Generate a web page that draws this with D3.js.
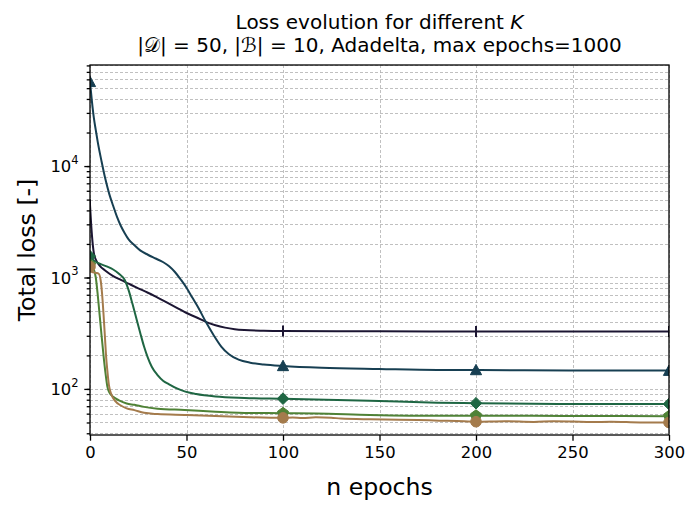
<!DOCTYPE html>
<html>
<head>
<meta charset="utf-8">
<script src="https://cdn.jsdelivr.net/npm/d3@7"></script>
<style>
body { margin: 0; background: #fff; }
text { font-family: 'DejaVu Sans', sans-serif; fill: #000; }
</style>
</head>
<body>
<script>
const width = 689
const height = 506
const margin = {
  top: 65,
  right: 20,
  bottom: 71,
  left: 90
}

// data: [epoch, total loss]
const epochTicks = [0, 50, 100, 150, 200, 250, 300]
const lossTicks = [100, 1000, 10000]
const markerEpochs = [0, 100, 200, 300]

const lossDark = [[0, 4500], [1, 2400], [2, 1650], [3, 1450], [5, 1280], [8, 1150], [12, 1030],
  [16, 950], [20, 880], [25, 800], [30, 730], [35, 660], [40, 595], [45, 535], [50, 480],
  [55, 440], [60, 400], [65, 373], [70, 355], [75, 344], [80, 338], [90, 333], [100, 331],
  [150, 329], [200, 328], [300, 328]]

const lossTeal = [[0, 57000], [1, 38000], [2, 27000], [3, 21000], [4, 16500], [6, 11000],
  [8, 7600], [10, 5600], [12, 4400], [14, 3500], [16, 2900], [18, 2500], [20, 2200],
  [23, 1950], [26, 1750], [30, 1600], [34, 1480], [38, 1370], [41, 1260], [44, 1120],
  [47, 960], [50, 810], [53, 660], [56, 540], [60, 400], [64, 305], [68, 240], [72, 205],
  [77, 183], [83, 172], [90, 166], [100, 161], [120, 155], [150, 151], [180, 148],
  [200, 148], [250, 146], [300, 146]]

const lossGreen = [[0, 1550], [2, 1420], [5, 1330], [9, 1250], [12, 1180], [15, 1080],
  [18, 950], [20, 770], [22, 580], [24, 430], [26, 320], [28, 240], [30, 190], [32, 158],
  [35, 133], [38, 118], [41, 110], [45, 101], [49, 95], [55, 90], [65, 85.5], [80, 83],
  [100, 81.8], [145, 78.5], [180, 75.3], [200, 74.4], [250, 73.3], [300, 73.2]]

const lossOlive = [[0, 1300], [1, 1250], [2, 1180], [3, 1000], [4, 700], [5, 460], [6, 300],
  [7, 200], [8, 140], [9, 105], [10, 93], [12, 85], [15, 79], [19, 74], [23, 72], [28, 69],
  [35, 66.5], [49, 64.8], [65, 62.5], [83, 60.8], [100, 60.6], [117, 60.2], [145, 58.5],
  [181, 57.4], [200, 57.6], [250, 57.1], [300, 57]]

const lossBrown = [[0, 1250], [1, 1120], [3, 1100], [4.5, 1080], [5.5, 950], [6.3, 700],
  [7, 470], [7.7, 300], [8.3, 200], [9, 145], [9.8, 108], [11, 90], [13, 78], [16, 71],
  [19, 67], [23, 64.5], [28, 61], [35, 59.5], [49, 58.4], [65, 57.2], [83, 55.7], [100, 55],
  [105, 55.4], [110, 54.8], [117, 55.7], [125, 55.2], [130, 54.2], [145, 53.4], [160, 53],
  [170, 52.6], [181, 51.9], [190, 51.5], [200, 50.8], [215, 51.3], [230, 50.6], [240, 51.2],
  [250, 50.9], [260, 50.4], [270, 50.8], [285, 50.1], [300, 50]]

const svg = d3.select('body')
  .append('svg')
  .attr('width', width)
  .attr('height', height)

const chartWidth = width - margin.left - margin.right
const chartHeight = height - margin.top - margin.bottom

const g = svg.append('g').attr('transform', `translate(${margin.left}, ${margin.top})`)

const x = d3.scaleLinear().domain([0, 300]).range([0, chartWidth])
const y = d3.scaleLog().domain([38.6, 80700]).range([chartHeight, 0])

// marker shapes (matplotlib-like), size = half extent in px
const vline = { draw (c, s) { c.moveTo(0, -s); c.lineTo(0, s) } }
const triUp = { draw (c, s) { c.moveTo(0, -s); c.lineTo(s, s * 0.85); c.lineTo(-s, s * 0.85); c.closePath() } }
const diamond = { draw (c, s) { c.moveTo(0, -s); c.lineTo(s, 0); c.lineTo(0, s); c.lineTo(-s, 0); c.closePath() } }
const pentagon = { draw (c, s) {
  for (let i = 0; i < 5; i++) {
    const a = -Math.PI / 2 + i * 2 * Math.PI / 5
    if (i === 0) c.moveTo(s * Math.cos(a), s * Math.sin(a))
    else c.lineTo(s * Math.cos(a), s * Math.sin(a))
  }
  c.closePath()
} }
const circle = { draw (c, s) { c.moveTo(s, 0); c.arc(0, 0, s, 0, 2 * Math.PI) } }

const series = [
  {data: lossDark, color: '#1c1633', marker: vline, size: 5.5},
  {data: lossTeal, color: '#173f52', marker: triUp, size: 5.6},
  {data: lossGreen, color: '#1f6643', marker: diamond, size: 5.8},
  {data: lossOlive, color: '#4f8236', marker: pentagon, size: 5.8},
  {data: lossBrown, color: '#a47b4c', marker: circle, size: 5.3}
]

// grid
const grid = g.append('g').attr('class', 'grid')
  .attr('stroke', '#b0b0b0')
  .attr('stroke-width', 0.8)
  .attr('stroke-dasharray', '3,2')

grid.selectAll('line.h')
  .data(y.ticks())
  .enter()
  .append('line')
  .attr('x1', 0)
  .attr('x2', chartWidth)
  .attr('y1', (d) => Math.round(y(d)) + 0.5)
  .attr('y2', (d) => Math.round(y(d)) + 0.5)

grid.selectAll('line.v')
  .data(epochTicks)
  .enter()
  .append('line')
  .attr('y1', 0)
  .attr('y2', chartHeight)
  .attr('x1', (d) => Math.round(x(d)) + 0.5)
  .attr('x2', (d) => Math.round(x(d)) + 0.5)

svg.append('defs').append('clipPath')
  .attr('id', 'plot-clip')
  .append('rect')
  .attr('width', chartWidth)
  .attr('height', chartHeight)

const plot = g.append('g').attr('clip-path', 'url(#plot-clip)')

const line = d3.line()
  .x((d) => x(d[0]))
  .y((d) => y(d[1]))
  .curve(d3.curveMonotoneX)

series.forEach((s) => {
  plot.append('path')
    .datum(s.data)
    .attr('fill', 'none')
    .attr('stroke', s.color)
    .attr('stroke-width', 2)
    .attr('stroke-linejoin', 'round')
    .attr('d', line)

  const sym = d3.symbol().type(s.marker).size(s.size)
  plot.selectAll(null)
    .data(s.data.filter((d) => markerEpochs.includes(d[0])))
    .enter()
    .append('path')
    .attr('transform', (d) => `translate(${x(d[0])}, ${y(d[1])})`)
    .attr('d', sym)
    .attr('fill', s.color)
    .attr('stroke', s.color)
    .attr('stroke-width', s.marker === vline ? 2 : 1)
})

// axes
const xAxis = g.append('g')
  .attr('class', 'axis x')
  .attr('transform', `translate(0, ${chartHeight})`)
  .call(d3.axisBottom(x).tickValues(epochTicks).tickSize(5.7).tickPadding(5.5).tickFormat(d3.format('d')))

const yAxis = g.append('g')
  .attr('class', 'axis y')
  .call(d3.axisLeft(y).tickValues(y.ticks()).tickSize(3.3).tickFormat(''))

const yMajor = g.append('g')
  .attr('class', 'axis y major')
  .call(d3.axisLeft(y).tickValues(lossTicks).tickSize(5.7).tickPadding(5.5).tickFormat(''))

;[xAxis, yAxis, yMajor].forEach((a) => {
  a.select('.domain').remove()
  a.selectAll('line').attr('stroke', '#000').attr('stroke-width', 1.3)
})
xAxis.selectAll('text').attr('font-size', '16.4px').attr('font-family', 'DejaVu Sans').attr('fill', '#000')

const yLabels = yMajor.selectAll('.tick')
  .append('text')
  .attr('x', -11.4)
  .attr('dy', '0.36em')
  .attr('text-anchor', 'end')
  .attr('font-size', '16.4px')
yLabels.append('tspan').text('10')
yLabels.append('tspan')
  .attr('font-size', '11.5px')
  .attr('dy', '-0.75em')
  .text((d) => Math.round(Math.log10(d)))

// frame
g.append('rect')
  .attr('width', chartWidth)
  .attr('height', chartHeight)
  .attr('fill', 'none')
  .attr('stroke', '#000')
  .attr('stroke-width', 1.3)

// labels
svg.append('text')
  .attr('x', margin.left + chartWidth / 2)
  .attr('y', 495)
  .attr('text-anchor', 'middle')
  .attr('font-size', '23.6px')
  .text('n epochs')

svg.append('text')
  .attr('transform', `translate(35, ${margin.top + chartHeight / 2}) rotate(-90)`)
  .attr('text-anchor', 'middle')
  .attr('font-size', '23.6px')
  .text('Total loss [-]')

const title = svg.append('text')
  .attr('x', margin.left + chartWidth / 2)
  .attr('text-anchor', 'middle')
  .attr('font-size', '20px')
title.append('tspan')
  .attr('x', margin.left + chartWidth / 2)
  .attr('y', 29)
  .text('Loss evolution for different ')
  .append('tspan')
  .attr('font-style', 'italic')
  .text('K')
title.append('tspan')
  .attr('x', margin.left + chartWidth / 2)
  .attr('y', 52)
  .text('|𝒟| = 50, |ℬ| = 10, Adadelta, max epochs=1000')
</script>
</body>
</html>
